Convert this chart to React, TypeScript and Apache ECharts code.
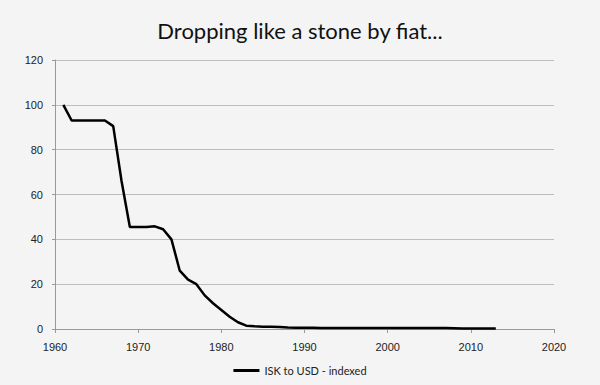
import React, { useEffect, useRef } from "react";
import * as echarts from "echarts";

const years = [1961,1962,1963,1964,1965,1966,1967,1968,1969,1970,1971,1972,1973,1974,1975,1976,1977,1978,1979,1980,1981,1982,1983,1984,1985,1986,1987,1988,1989,1990,1991,1992,1993,1994,1995,1996,1997,1998,1999,2000,2001,2002,2003,2004,2005,2006,2007,2008,2009,2010,2011,2012,2013];
const values = [100,93,93,93,93,93,90.5,66,45.5,45.5,45.5,45.8,44.5,40,26,22,20,15,11.5,8.5,5.5,3,1.5,1.2,1,1,0.9,0.7,0.6,0.6,0.6,0.5,0.4,0.4,0.4,0.4,0.4,0.4,0.4,0.4,0.4,0.4,0.4,0.4,0.4,0.4,0.4,0.35,0.2,0.2,0.2,0.2,0.2];
const seriesName = "ISK to USD - indexed";
const titleText = "Dropping like a stone by fiat...";

export default function App() {
  const ref = useRef<HTMLDivElement>(null);
  useEffect(() => {
    if (!ref.current) return;
    const chart = echarts.init(ref.current, null, { renderer: "svg" });
    chart.setOption({
      animation: false,
      backgroundColor: "#f4f4f4",
      title: {
        text: titleText,
        left: "center",
        top: 14,
        textStyle: { fontFamily: "Lato", fontWeight: "normal", fontSize: 22, color: "#111" },
      },
      legend: {
        bottom: 4,
        left: "center",
        itemWidth: 26,
        itemHeight: 3,
        icon: "rect",
        itemGap: 4,
        textStyle: { fontFamily: "Lato", fontSize: 11, color: "#222" },
        data: [seriesName],
      },
      grid: { left: 55, right: 46, top: 60, bottom: 56 },
      xAxis: {
        type: "value",
        min: 1960,
        max: 2020,
        interval: 10,
        axisLine: { show: true, lineStyle: { color: "#999" } },
        axisTick: { show: true, length: 4, lineStyle: { color: "#999" } },
        splitLine: { show: false },
        axisLabel: { fontFamily: "Liberation Sans", fontSize: 11, color: "#222", margin: 12, formatter: (v: number) => String(v) },
      },
      yAxis: {
        type: "value",
        min: 0,
        max: 120,
        interval: 20,
        axisLine: { show: true, lineStyle: { color: "#999" } },
        axisTick: { show: true, length: 3, lineStyle: { color: "#999" } },
        splitLine: { show: true, lineStyle: { color: "#bdbdbd" } },
        axisLabel: { fontFamily: "Liberation Sans", fontSize: 11, color: "#222", margin: 12 },
      },
      series: [
        {
          name: seriesName,
          type: "line",
          data: years.map((y, i) => [y, values[i]]),
          showSymbol: false,
          symbol: "none",
          lineStyle: { color: "#000", width: 2.5 },
          itemStyle: { color: "#000" },
        },
      ],
    });
    return () => chart.dispose();
  }, []);
  return <div ref={ref} style={{ width: 600, height: 385, position: "absolute", left: 0, top: 0 }} />;
}
